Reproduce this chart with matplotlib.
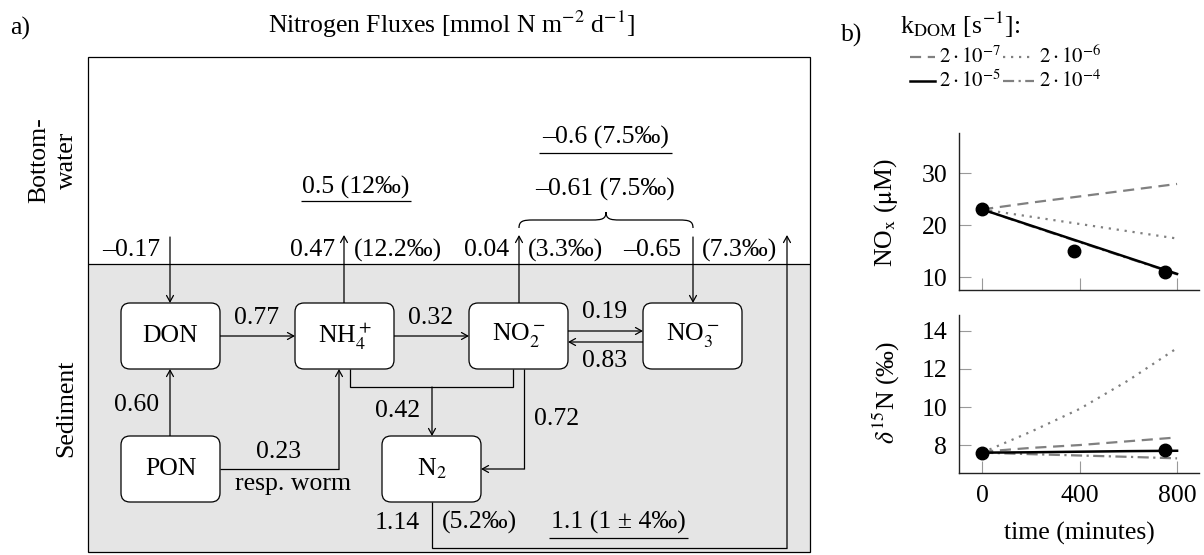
import matplotlib
matplotlib.use("Agg")
import matplotlib.pyplot as plt
from matplotlib.patches import FancyBboxPatch, Rectangle, FancyArrowPatch, PathPatch
from matplotlib.path import Path

plt.rcParams["font.family"] = ["Liberation Serif", "DejaVu Serif"]
plt.rcParams["mathtext.fontset"] = "stix"

# ---------------- data ----------------
pool_names = ["DON", r"NH$_4^+$", r"NO$_2^-$", r"NO$_3^-$", "PON", r"N$_2$"]

# internal sediment fluxes
flux_don_nh4 = "0.77"
flux_nh4_no2 = "0.32"
flux_no2_no3 = "0.19"
flux_no3_no2 = "0.83"
flux_pon_don = "0.60"
flux_pon_nh4 = "0.23"
flux_anammox = "0.42"
flux_denit = "0.72"

# sediment / bottom-water exchange (value, isotope signature)
exch_don = "–0.17"
exch_nh4 = ("0.47", "(12.2‰)")
exch_no2 = ("0.04", "(3.3‰)")
exch_no3 = ("–0.65", "(7.3‰)")
exch_n2 = ("1.14", "(5.2‰)")
sum_nox = "–0.61 (7.5‰)"

# measured benthic fluxes
meas_nh4 = "0.5 (12‰)"
meas_nox = "–0.6 (7.5‰)"
meas_n2 = "1.1 (1 ± 4‰)"

# incubation time series
time_obs = [0, 375, 750]
nox_obs = [23, 15, 11]
time_d15n_obs = [0, 750]
d15n_obs = [7.6, 7.74]

time_model = [0, 200, 400, 600, 800]
k_labels = [r"$2\cdot10^{-7}$", r"$2\cdot10^{-6}$", r"$2\cdot10^{-5}$", r"$2\cdot10^{-4}$"]
nox_model = [
    [23.0, 24.3, 25.5, 26.7, 27.9],   # 2e-7
    [23.0, 21.6, 20.2, 18.8, 17.4],   # 2e-6
    [23.0, 19.9, 16.8, 13.7, 10.6],   # 2e-5
    [23.0, 19.8, 16.7, 13.6, 10.5],   # 2e-4
]
d15n_model = [
    [7.65, 7.85, 8.0, 8.2, 8.4],      # 2e-7
    [7.6, 8.7, 9.9, 11.4, 13.1],      # 2e-6
    [7.6, 7.62, 7.65, 7.68, 7.7],     # 2e-5
    [7.6, 7.52, 7.45, 7.38, 7.3],     # 2e-4
]

# ---------------- figure ----------------
W, H = 1204, 555
FS = 18.5
FS_LEG = 15
GRAY = "#808080"
fig = plt.figure(figsize=(W / 100, H / 100), dpi=100)

ov = fig.add_axes([0, 0, 1, 1])
ov.set_xlim(0, W)
ov.set_ylim(H, 0)
ov.axis("off")

LW = 0.9


def txt(x, y, s, ha="center", va="center", **kw):
    ov.text(x, y, s, ha=ha, va=va, fontsize=kw.pop("fontsize", FS), **kw)


def arrow(pts):
    if len(pts) > 2:
        xs, ys = zip(*pts[:-1])
        ov.plot(xs, ys, color="k", lw=LW, solid_capstyle="butt", solid_joinstyle="miter")
    ov.add_patch(FancyArrowPatch(pts[-2], pts[-1], arrowstyle="->,head_length=0.45,head_width=0.25",
                                 mutation_scale=10, lw=LW, color="k", shrinkA=0, shrinkB=0))


def line(pts):
    xs, ys = zip(*pts)
    ov.plot(xs, ys, color="k", lw=LW, solid_capstyle="butt", solid_joinstyle="miter")


# panel labels and title
txt(20, 28, "a)")
txt(452, 24, r"Nitrogen Fluxes [mmol N m$^{-2}$ d$^{-1}$]")

# outer frame with sediment layer
ov.add_patch(Rectangle((88, 264), 722, 288, fc="#e5e5e5", ec="none", zorder=0))
ov.add_patch(Rectangle((88, 57), 722, 495, fc="none", ec="k", lw=LW, zorder=3))
line([(88, 264), (810, 264)])

txt(53, 160, "Bottom-\nwater", rotation=90, linespacing=1.3)
txt(66, 408, "Sediment", rotation=90)

# pool boxes
boxes = {
    "DON": (121, 303), "NH4": (295, 303), "NO2": (469, 303), "NO3": (643, 303),
    "PON": (121, 436), "N2": (382, 436),
}
BW, BH = 99, 66
for (key, (x0, y0)), name in zip(boxes.items(), pool_names):
    ov.add_patch(FancyBboxPatch((x0, y0), BW, BH, boxstyle="round,pad=0,rounding_size=9",
                                fc="white", ec="k", lw=LW, zorder=2))
    txt(x0 + BW / 2, y0 + BH / 2, name, zorder=4)

# internal fluxes
arrow([(220, 336), (295, 336)]); txt(257, 318, flux_don_nh4)
arrow([(394, 336), (469, 336)]); txt(431, 318, flux_nh4_no2)
arrow([(568, 331), (643, 331)]); txt(605, 312, flux_no2_no3)
arrow([(643, 342), (568, 342)]); txt(605, 361, flux_no3_no2)
arrow([(170, 436), (170, 369)]); txt(137, 405, flux_pon_don)
arrow([(220, 469), (339, 469), (339, 369)])
txt(279, 452, flux_pon_nh4); txt(293, 484, "resp. worm")
line([(350, 369), (350, 387), (513, 387), (513, 369)])
arrow([(432, 387), (432, 436)]); txt(398, 411, flux_anammox)
arrow([(524, 369), (524, 469), (481, 469)]); txt(557, 419, flux_denit)

# exchange with bottom water
arrow([(170, 237), (170, 303)]); txt(160, 250, exch_don, ha="right")
arrow([(344, 303), (344, 235)])
txt(335, 250, exch_nh4[0], ha="right"); txt(354, 250, exch_nh4[1], ha="left")
arrow([(519, 303), (519, 235)])
txt(509, 250, exch_no2[0], ha="right"); txt(528, 250, exch_no2[1], ha="left")
arrow([(693, 237), (693, 303)])
txt(681, 250, exch_no3[0], ha="right"); txt(702, 250, exch_no3[1], ha="left")
arrow([(432, 502), (432, 548), (787, 548), (787, 235)])
txt(420, 523, exch_n2[0], ha="right"); txt(442, 522, exch_n2[1], ha="left")

# curly brace grouping the NOx exchange
x0b, x1b, xm = 519, 693, 606
yb, ys, yt = 228, 220, 212
verts = [(x0b, yb), (x0b, ys + 1), (x0b + 4, ys), (x0b + 14, ys), (xm - 14, ys),
         (xm - 4, ys), (xm, ys - 1), (xm, yt),
         (xm, ys - 1), (xm + 4, ys), (xm + 14, ys), (x1b - 14, ys),
         (x1b - 4, ys), (x1b, ys + 1), (x1b, yb)]
codes = [Path.MOVETO, Path.CURVE4, Path.CURVE4, Path.CURVE4, Path.LINETO,
         Path.CURVE4, Path.CURVE4, Path.CURVE4,
         Path.CURVE4, Path.CURVE4, Path.CURVE4, Path.LINETO,
         Path.CURVE4, Path.CURVE4, Path.CURVE4]
ov.add_patch(PathPatch(Path(verts, codes), fc="none", ec="k", lw=LW))
txt(605, 189, sum_nox)

# measured fluxes (underlined)
txt(356, 187, meas_nh4); line([(301, 201), (411, 201)])
txt(606, 137, meas_nox); line([(539, 153), (672, 153)])
txt(618, 522, meas_n2); line([(549, 538), (688, 538)])

# ---------------- panel b ----------------
txt(852, 35, "b)")
txt(900, 25, r"k$_{\mathrm{DOM}}$ [s$^{-1}$]:", ha="left")

styles = [
    dict(color=GRAY, lw=1.6, dashes=(5, 3)),
    dict(color=GRAY, lw=1.6, dashes=(1, 2.6)),
    dict(color="black", lw=1.8),
    dict(color=GRAY, lw=1.6, dashes=(5, 2, 1, 2)),
]
legend_rows = [(910, 935, 939, 57), (1003, 1034, 1039, 57),
               (910, 935, 939, 81), (1003, 1034, 1039, 81)]
for (xa, xb, xt, yy), st, lab in zip(legend_rows, styles, k_labels):
    ov.plot([xa, xb], [yy, yy], **st)
    txt(xt, yy, lab, ha="left", fontsize=FS_LEG)

axA = fig.add_axes([959 / W, 1 - 290 / H, 240 / W, 157 / H])
axB = fig.add_axes([959 / W, 1 - 473 / H, 240 / W, 158 / H])

for ax in (axA, axB):
    ax.set_facecolor("none")
    for s in ("top", "right"):
        ax.spines[s].set_visible(False)
    for s in ("left", "bottom"):
        ax.spines[s].set_linewidth(1.0)
        ax.spines[s].set_color("#222222")
    ax.tick_params(direction="in", length=8.5, width=0.8, color="#999999",
                   labelsize=FS, pad=8.5)
    ax.set_xlim(-95, 890)
    ax.set_xticks([0, 400, 800])

order = [1, 0, 3, 2]
for i in order:
    axA.plot(time_model, nox_model[i], **styles[i])
    axB.plot(time_model, d15n_model[i], **styles[i])
axA.plot(time_obs, nox_obs, "o", color="k", ms=9, zorder=5)
axB.plot(time_d15n_obs, d15n_obs, "o", color="k", ms=9, zorder=5)

axA.set_ylim(7.5, 37.7)
axA.set_yticks([10, 20, 30])
axA.set_xticklabels([])
axB.set_ylim(6.53, 14.84)
axB.set_yticks([8, 10, 12, 14])

axA.set_ylabel(r"NO$_\mathrm{x}$ ($\mathrm{\mu}$M)", fontsize=FS)
axA.yaxis.set_label_coords(-0.246, 0.49)
axB.set_ylabel(r"$\delta^{15}$N (‰)", fontsize=FS)
axB.yaxis.set_label_coords(-0.2375, 0.506)
axB.set_xlabel("time (minutes)", fontsize=FS)
axB.xaxis.set_label_coords(0.5, -0.31)

fig.savefig("out.png", dpi=100)
